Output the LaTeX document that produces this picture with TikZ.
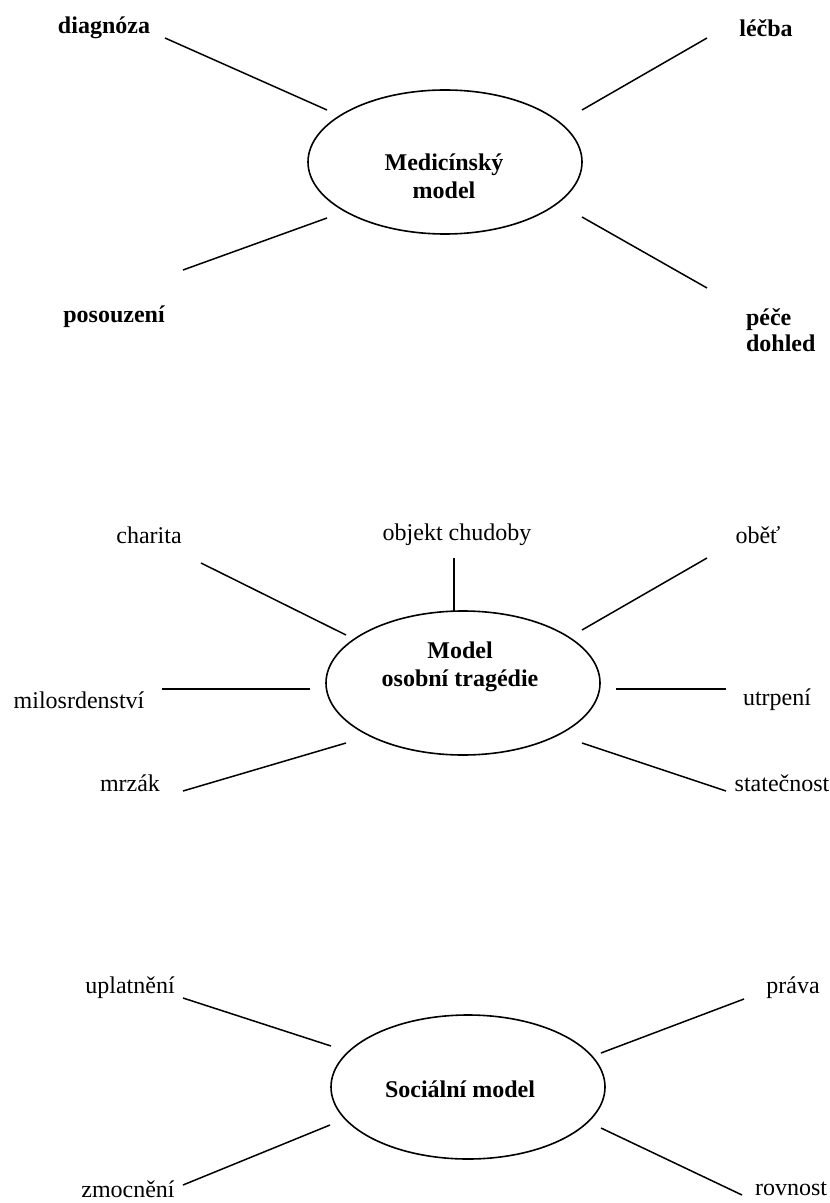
\documentclass[tikz,border=0pt]{standalone}
\usepackage{fontspec}
\setmainfont{Liberation Serif}
\usepackage{tikz}
\usetikzlibrary{
    shapes.geometric
}

\begin{document}
\begin{tikzpicture}[
    x=0.5pt,y=-0.5pt,
    model/.style={
        draw,
        ellipse,
        line width=0.8pt,
        minimum width=137pt,
        minimum height=72pt,
        inner sep=0pt
    },
    modeltext/.style={
        font=\fontsize{12}{14}\selectfont\bfseries,
        align=center
    },
    boldterm/.style={
        font=\fontsize{12}{13}\selectfont\bfseries,
        align=left
    },
    term/.style={
        font=\fontsize{12}{14}\selectfont
    },
    spoke/.style={
        line width=0.75pt
    },
    flatspoke/.style={
        line width=1.2pt
    }
]
%
    \useasboundingbox
    (0,0)
    rectangle
    (829,1203);
%
% --- Medicinsky model ---
%
    \node[model] (med) at (445,162) {};
    \node[modeltext] (medtext) at (444,176) {Medicínský\\model};
%
    \node[boldterm] (diag) at (104,28) {diagnóza};
    \node[boldterm] (lecba) at (766,28) {léčba};
    \node[boldterm] (posouz) at (114,317) {posouzení};
    \node[boldterm, anchor=west] (pece) at (739,330) {péče\\dohled};
%
    \coordinate (diag-a) at (165,38);
    \coordinate (diag-b) at (327,110);
    \coordinate (lecba-a) at (707,38);
    \coordinate (lecba-b) at (582,110);
    \coordinate (posouz-a) at (183,270);
    \coordinate (posouz-b) at (327,218);
    \coordinate (pece-a) at (707,288);
    \coordinate (pece-b) at (582,217);
%
    \draw[spoke] (diag-a) -- (diag-b);
    \draw[spoke] (lecba-a) -- (lecba-b);
    \draw[spoke] (posouz-a) -- (posouz-b);
    \draw[spoke] (pece-a) -- (pece-b);
%
% --- Model osobni tragedie ---
%
    \node[model] (trag) at (463,683) {};
    \node[modeltext] (tragtext) at (460,667) {Model\\osobní tragédie};
%
    \node[term] (charita) at (149,535) {charita};
    \node[term] (chudoba) at (457,535) {objekt chudoby};
    \node[term] (obet) at (758,535) {oběť};
    \node[term] (milos) at (79,700) {milosrdenství};
    \node[term] (utrpeni) at (777,700) {utrpení};
    \node[term] (mrzak) at (130,783) {mrzák};
    \node[term] (state) at (782,783) {statečnost};
%
    \coordinate (charita-a) at (201,563);
    \coordinate (charita-b) at (346,635);
    \coordinate (chudoba-a) at (454,558);
    \coordinate (chudoba-b) at (454,612);
    \coordinate (obet-a) at (707,558);
    \coordinate (obet-b) at (582,630);
    \coordinate (milos-a) at (162,689);
    \coordinate (milos-b) at (310,689);
    \coordinate (utrpeni-a) at (726,689);
    \coordinate (utrpeni-b) at (616,689);
    \coordinate (mrzak-a) at (183,791);
    \coordinate (mrzak-b) at (346,743);
    \coordinate (state-a) at (726,791);
    \coordinate (state-b) at (582,743);
%
    \draw[spoke] (charita-a) -- (charita-b);
    \draw[flatspoke] (chudoba-a) -- (chudoba-b);
    \draw[spoke] (obet-a) -- (obet-b);
    \draw[flatspoke] (milos-a) -- (milos-b);
    \draw[flatspoke] (utrpeni-a) -- (utrpeni-b);
    \draw[spoke] (mrzak-a) -- (mrzak-b);
    \draw[spoke] (state-a) -- (state-b);
%
% --- Socialni model ---
%
    \node[model] (soc) at (468,1087) {};
    \node[modeltext] (soctext) at (460,1089) {Sociální model};
%
    \node[term] (uplat) at (130,988) {uplatnění};
    \node[term] (prava) at (793,988) {práva};
    \node[term] (zmoc) at (128,1189) {zmocnění};
    \node[term] (rovnost) at (791,1189) {rovnost};
%
    \coordinate (uplat-a) at (183,998);
    \coordinate (uplat-b) at (331,1046);
    \coordinate (prava-a) at (744,999);
    \coordinate (prava-b) at (601,1053);
    \coordinate (zmoc-a) at (183,1185);
    \coordinate (zmoc-b) at (330,1125);
    \coordinate (rovnost-a) at (742,1195);
    \coordinate (rovnost-b) at (601,1128);
%
    \draw[spoke] (uplat-a) -- (uplat-b);
    \draw[spoke] (prava-a) -- (prava-b);
    \draw[spoke] (zmoc-a) -- (zmoc-b);
    \draw[spoke] (rovnost-a) -- (rovnost-b);
%
\end{tikzpicture}
\end{document}
